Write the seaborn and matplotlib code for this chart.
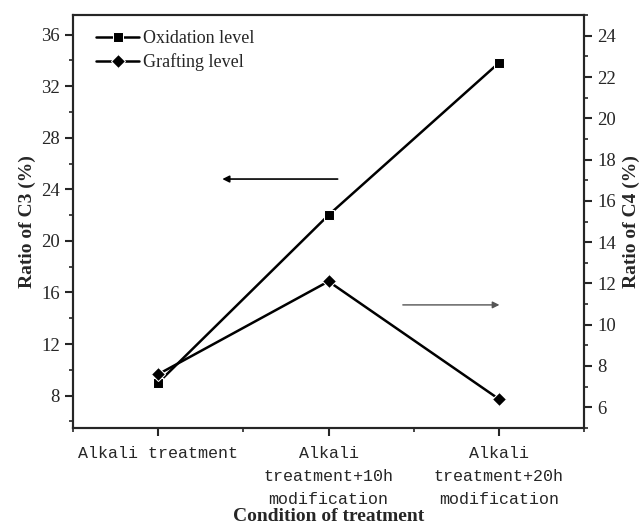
import numpy as np
import pandas as pd
import matplotlib
matplotlib.use("Agg")
import matplotlib.pyplot as plt
import seaborn as sns
from matplotlib.ticker import MultipleLocator

# Data
conditions = ["Alkali treatment",
              "Alkali\ntreatment+10h\nmodification",
              "Alkali\ntreatment+20h\nmodification"]
oxidation = [9.0, 22.0, 33.8]   # Ratio of C3 (%), left axis
grafting = [7.6, 12.1, 6.4]     # Ratio of C4 (%), right axis

sns.set_style("ticks")
plt.rcParams["font.family"] = ["Liberation Serif", "DejaVu Serif"]

df = pd.DataFrame({"pos": np.arange(len(conditions)),
                   "oxidation": oxidation,
                   "grafting": grafting})

fig = plt.figure(figsize=(6.41, 5.25), dpi=100)
ax = fig.add_axes([0.114, 0.185, 0.797, 0.786])
ax2 = ax.twinx()

sns.lineplot(data=df, x="pos", y="oxidation", ax=ax, color="black",
             marker="s", markersize=7, linewidth=1.8, label="Oxidation level",
             legend=False)
sns.lineplot(data=df, x="pos", y="grafting", ax=ax2, color="black",
             marker="D", markersize=7, linewidth=1.8, label="Grafting level",
             legend=False)

ax.set_xlim(-0.5, 2.5)
ax.set_ylim(5.5, 37.5)
ax2.set_ylim(5, 25)

ax.set_xticks(df["pos"])
ax.set_xticklabels(conditions, family=["Liberation Mono"], fontsize=12,
                   linespacing=1.65)
ax.xaxis.set_minor_locator(MultipleLocator(0.5))
ax.yaxis.set_major_locator(MultipleLocator(4))
ax.yaxis.set_minor_locator(MultipleLocator(2))
ax2.yaxis.set_major_locator(MultipleLocator(2))
ax2.yaxis.set_minor_locator(MultipleLocator(1))

for a in (ax, ax2):
    a.tick_params(which="major", direction="out", length=6, width=1.5,
                  labelsize=13.5)
    a.tick_params(which="minor", direction="out", length=3, width=1.2)
    for s in a.spines.values():
        s.set_linewidth(1.5)
        s.set_visible(True)
ax.tick_params(axis="x", which="major", labelsize=12, pad=7)

ax.set_xlabel("Condition of treatment", fontsize=14, fontweight="bold",
              labelpad=1)
ax.set_ylabel("Ratio of C3 (%)", fontsize=14, fontweight="bold", labelpad=4)
ax2.set_ylabel("Ratio of C4 (%)", fontsize=14, fontweight="bold",
               rotation=90, labelpad=5)

# direction arrows
ax.annotate("", xy=(0.36, 0.603), xytext=(1.07, 0.603),
            xycoords=("data", "axes fraction"),
            arrowprops=dict(arrowstyle="-|>", color="black", lw=1.2,
                            mutation_scale=10))
ax.annotate("", xy=(2.02, 0.298), xytext=(1.42, 0.298),
            xycoords=("data", "axes fraction"),
            arrowprops=dict(arrowstyle="-|>", color="#555555", lw=1.0,
                            mutation_scale=10))

h1, l1 = ax.get_legend_handles_labels()
h2, l2 = ax2.get_legend_handles_labels()
ax.legend(h1 + h2, l1 + l2, loc="upper left", frameon=False, fontsize=13,
          bbox_to_anchor=(0.02, 0.995), handlelength=2.4, handletextpad=0.2,
          labelspacing=0.35, borderaxespad=0.3)

fig.savefig("out.png", dpi=100)
